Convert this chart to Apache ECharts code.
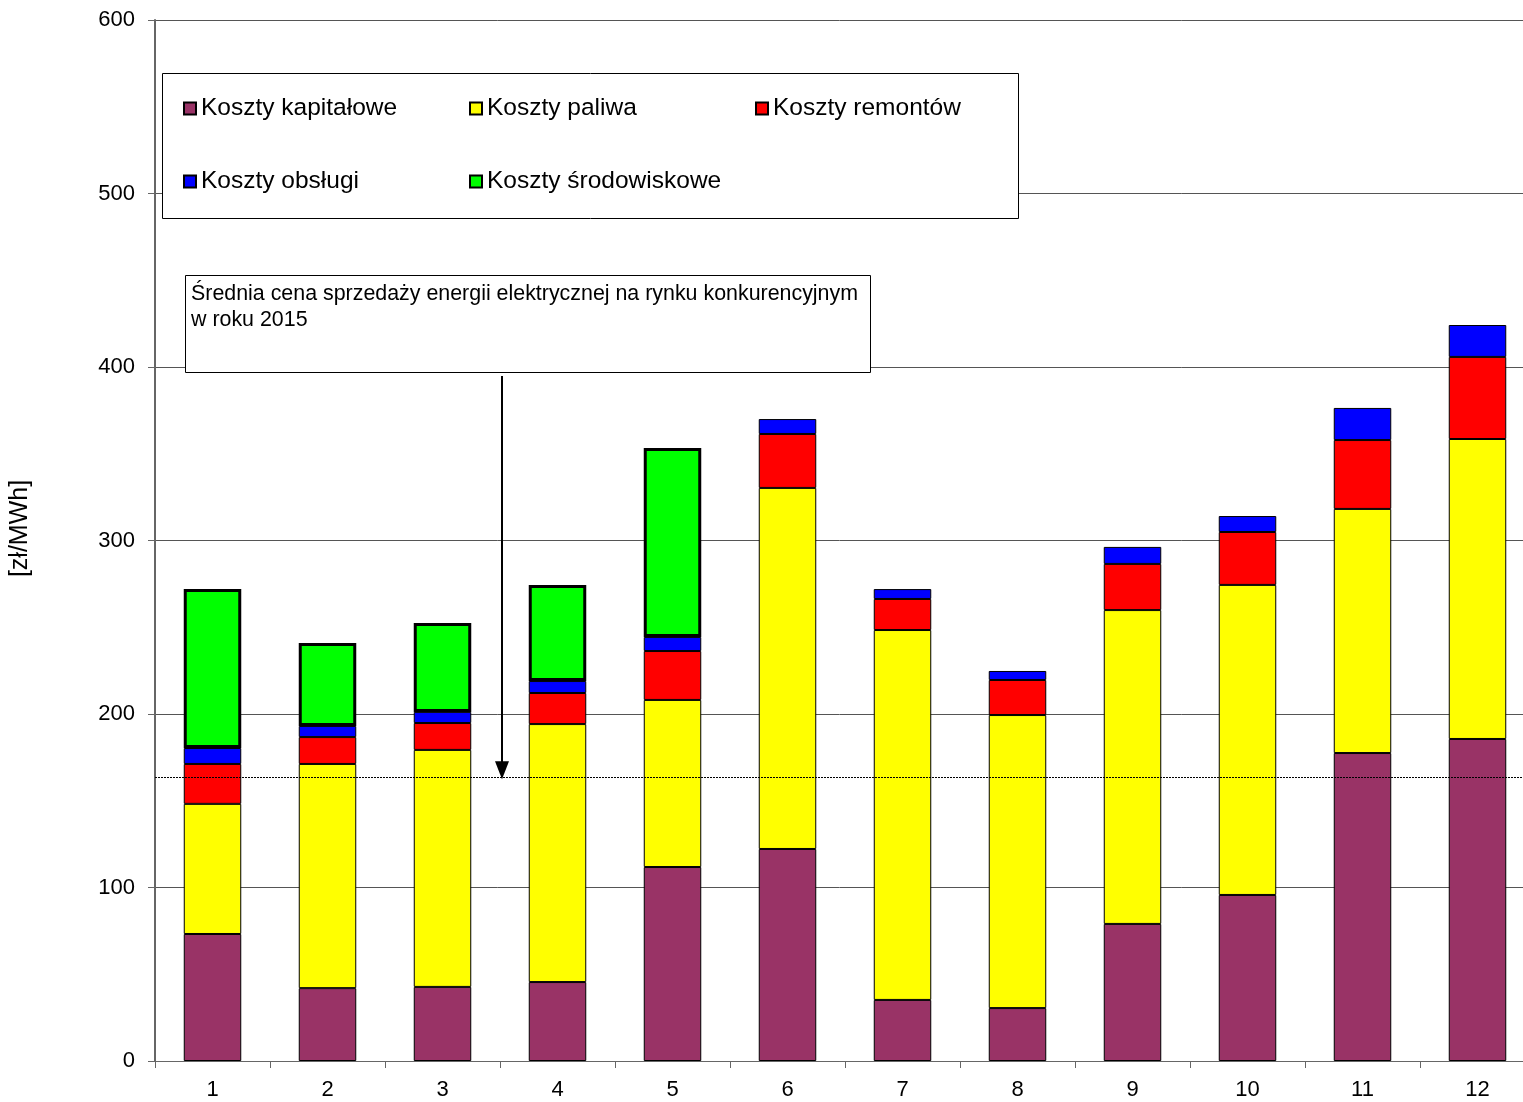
<!DOCTYPE html>
<html>
<head>
<meta charset="utf-8">
<script src="https://cdn.jsdelivr.net/npm/echarts@6/dist/echarts.min.js"></script>
<style>
  html, body { margin: 0; padding: 0; background: #fff; }
  #main { width: 1523px; height: 1102px; }
</style>
</head>
<body>
<div id="main"></div>
<script>
var categories = ['1', '2', '3', '4', '5', '6', '7', '8', '9', '10', '11', '12'];
var yTicks = [0, 100, 200, 300, 400, 500, 600];

var kapitalowe = [73.2, 42.0, 42.7, 45.5, 111.8, 122.2, 35.2, 30.5, 79.0, 95.7, 177.5, 185.6];
var paliwa = [75.0, 129.2, 136.6, 148.7, 96.3, 208.1, 213.2, 168.9, 180.9, 178.7, 140.7, 172.9];
var remontow = [23.0, 15.5, 15.5, 17.9, 28.2, 31.1, 17.9, 20.2, 26.6, 30.5, 39.7, 47.3];
var obslugi = [9.2, 6.4, 6.4, 6.9, 8.1, 8.6, 5.7, 5.2, 9.8, 9.2, 18.5, 18.4];
var srodowiskowe = [91.6, 47.8, 51.2, 55.4, 108.9, '-', '-', '-', '-', '-', '-', '-'];

var averagePrice = 163.5;

var font = 'Liberation Sans, Arial, sans-serif';

var myChart = echarts.init(document.getElementById('main'));

function barSeries(name, data, color, bw) {
    return {
        name: name,
        type: 'bar',
        stack: 'total',
        barWidth: '50%',
        data: data,
        itemStyle: {
            color: color,
            borderColor: '#000',
            borderWidth: bw
        }
    };
}

var series = [
    barSeries('Koszty kapitałowe', kapitalowe, '#993366', 1),
    barSeries('Koszty paliwa', paliwa, '#ffff00', 1),
    barSeries('Koszty remontów', remontow, '#ff0000', 1),
    barSeries('Koszty obsługi', obslugi, '#0000ff', 1),
    barSeries('Koszty środowiskowe', srodowiskowe, '#00ff00', 3)
];

// average price line
series[0].markLine = {
    silent: true,
    symbol: 'none',
    label: { show: false },
    lineStyle: { color: '#000', type: [2, 1], width: 1 },
    data: [{ yAxis: averagePrice }]
};

var legendText = { fontFamily: font, fontSize: 24.5, color: '#000', width: 255, lineHeight: 24 };

var option = {
    animation: false,
    backgroundColor: '#fff',
    grid: { left: 155, right: -12, top: 20, bottom: 41, outerBoundsMode: 'none', containLabel: false },
    legend: [
        {
            left: 183, top: 96, orient: 'horizontal',
            itemWidth: 12, itemHeight: 12, itemGap: 13, padding: 0,
            icon: 'rect',
            textStyle: legendText,
            data: ['Koszty kapitałowe', 'Koszty paliwa', 'Koszty remontów']
        },
        {
            left: 183, top: 169, orient: 'horizontal',
            itemWidth: 12, itemHeight: 12, itemGap: 13, padding: 0,
            icon: 'rect',
            textStyle: legendText,
            data: ['Koszty obsługi', 'Koszty środowiskowe']
        }
    ],
    xAxis: {
        type: 'category',
        data: categories,
        axisLine: { lineStyle: { color: '#666', width: 1 } },
        axisTick: { show: true, length: 7, lineStyle: { color: '#666' } },
        axisLabel: { fontFamily: font, fontSize: 22, color: '#000', margin: 18 }
    },
    yAxis: {
        type: 'value',
        min: yTicks[0],
        max: yTicks[yTicks.length - 1],
        interval: 100,
        name: '[zł/MWh]',
        nameLocation: 'middle',
        nameRotate: 90,
        nameGap: 122,
        nameTextStyle: { fontFamily: font, fontSize: 25, color: '#000', padding: [0, 0, 0, 24] },
        axisLine: { show: true, lineStyle: { color: '#666', width: 2 } },
        axisTick: { show: true, length: 7, lineStyle: { color: '#666' } },
        axisLabel: { fontFamily: font, fontSize: 22, color: '#000', margin: 20 },
        splitLine: { lineStyle: { color: '#555', width: 1 } }
    },
    series: series
};

myChart.setOption(option);

// annotation boxes and arrow
var tipY = myChart.convertToPixel({ yAxisIndex: 0 }, averagePrice);
myChart.setOption({
    graphic: [
        {
            type: 'rect', z: 1,
            shape: { x: 162.5, y: 73.5, width: 856, height: 145 },
            style: { fill: '#fff', stroke: '#000', lineWidth: 1 }
        },
        {
            type: 'rect', z: 1,
            shape: { x: 185.5, y: 275.5, width: 685, height: 97 },
            style: { fill: '#fff', stroke: '#000', lineWidth: 1 }
        },
        {
            type: 'text', z: 2, left: 191, top: 281,
            style: {
                text: 'Średnia cena sprzedaży energii elektrycznej na rynku konkurencyjnym\nw roku 2015',
                fontFamily: font, fontSize: 21.4, lineHeight: 26, fill: '#000'
            }
        },
        {
            type: 'line', z: 3,
            shape: { x1: 502, y1: 376, x2: 502, y2: tipY - 14 },
            style: { stroke: '#000', lineWidth: 2 }
        },
        {
            type: 'polygon', z: 3,
            shape: { points: [[495, tipY - 16], [509, tipY - 16], [502, tipY + 2]] },
            style: { fill: '#000' }
        }
    ]
});
</script>
</body>
</html>
